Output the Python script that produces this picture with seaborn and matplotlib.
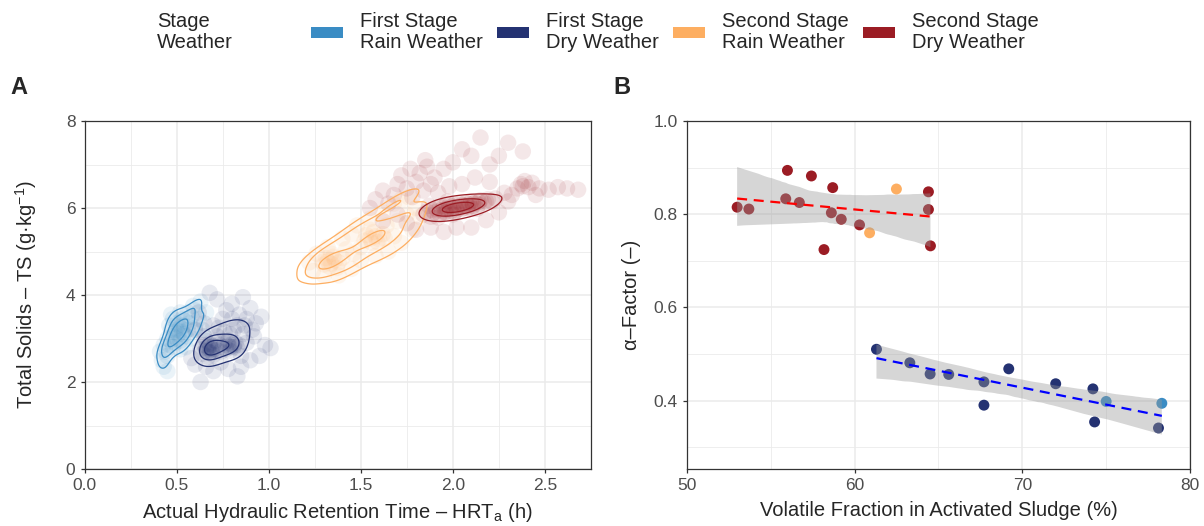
import numpy as np
import pandas as pd
import matplotlib
matplotlib.use("Agg")
import matplotlib.pyplot as plt
import seaborn as sns
from matplotlib.patches import Patch
from matplotlib.ticker import MultipleLocator, FormatStrFormatter

# ---------------- data ----------------
groups = ["First Stage\nRain Weather", "First Stage\nDry Weather",
          "Second Stage\nRain Weather", "Second Stage\nDry Weather"]
colors = ["#3A8CC4", "#243272", "#FDAE61", "#9B1C24"]

# Panel A: HRT_a (h) vs TS (g/kg)
hrt_s1_rain = [0.46, 0.47, 0.48, 0.49, 0.50, 0.50, 0.51, 0.52, 0.52, 0.53, 0.54, 0.55, 0.55, 0.56, 0.57,
               0.48, 0.47, 0.53, 0.58, 0.50, 0.45, 0.49, 0.54, 0.51,
               0.44, 0.45, 0.43, 0.46, 0.48, 0.52, 0.56, 0.60, 0.62, 0.60, 0.58, 0.55, 0.52, 0.59,
               0.42, 0.43, 0.45, 0.41, 0.63, 0.66, 0.64, 0.47]
ts_s1_rain = [2.85, 2.95, 3.05, 3.15, 3.00, 3.20, 3.10, 3.25, 2.95, 3.15, 3.30, 3.05, 3.40, 3.20, 3.35,
              2.80, 3.20, 3.45, 3.50, 3.35, 3.00, 2.90, 3.10, 3.30,
              2.70, 2.60, 2.85, 3.30, 3.45, 3.60, 3.60, 3.65, 3.45, 3.25, 3.00, 2.80, 2.75, 3.75,
              2.50, 2.35, 2.25, 2.70, 3.85, 3.60, 3.20, 3.55]

hrt_s1_dry = [0.63, 0.64, 0.65, 0.66, 0.66, 0.67, 0.68, 0.68, 0.69, 0.70, 0.70, 0.71, 0.72, 0.73, 0.74,
              0.75, 0.76, 0.77, 0.78, 0.79, 0.80, 0.81, 0.82, 0.83, 0.78, 0.67, 0.72, 0.65, 0.84, 0.69,
              0.66, 0.68, 0.70, 0.79, 0.81, 0.67,
              0.68, 0.72, 0.80, 0.86, 0.90, 0.93, 0.88, 0.83, 0.75, 0.70, 0.65, 0.60, 0.86, 0.92, 0.98,
              1.01, 0.95, 0.90, 0.85, 0.78, 0.70, 0.63, 0.83, 0.60, 0.58, 0.76, 0.81, 0.88, 0.96, 0.77,
              0.62, 0.85, 0.74, 0.91, 0.80, 0.66, 0.87, 0.84, 0.79, 0.73]
ts_s1_dry = [2.75, 2.65, 2.85, 2.72, 2.95, 2.80, 2.68, 2.88, 2.76, 2.82, 2.62, 2.95, 2.74, 2.86, 2.70,
             2.80, 2.90, 2.76, 2.84, 2.72, 2.86, 2.80, 2.90, 2.78, 2.95, 2.58, 3.05, 3.05, 2.85, 2.70,
             2.78, 2.82, 2.74, 2.80, 2.84, 2.70,
             4.05, 3.90, 3.80, 3.95, 3.70, 3.35, 3.45, 3.30, 3.45, 3.30, 3.35, 3.20, 3.10, 3.05, 2.85,
             2.78, 2.60, 2.50, 2.35, 2.30, 2.25, 2.00, 2.13, 2.40, 2.55, 3.15, 3.20, 2.90, 3.50, 3.65,
             3.60, 2.60, 2.45, 3.20, 3.45, 2.35, 3.30, 3.55, 3.10, 3.25]

hrt_s2_rain = [1.30, 1.32, 1.34, 1.36, 1.33, 1.35, 1.38, 1.31, 1.37, 1.29, 1.40, 1.34,
               1.52, 1.55, 1.58, 1.60, 1.62, 1.56, 1.53, 1.59, 1.57, 1.63,
               1.45, 1.40, 1.48, 1.55, 1.62, 1.68, 1.72, 1.76, 1.80, 1.82, 1.78, 1.72, 1.65, 1.58,
               1.50, 1.45, 1.38, 1.30, 1.24, 1.22, 1.26, 1.32, 1.42, 1.50, 1.55, 1.64, 1.70, 1.75,
               1.68, 1.46]
ts_s2_rain = [4.70, 4.78, 4.72, 4.80, 4.65, 4.88, 4.75, 4.85, 4.62, 4.76, 4.85, 4.95,
              5.25, 5.30, 5.35, 5.28, 5.40, 5.20, 5.38, 5.22, 5.45, 5.30,
              5.40, 5.30, 5.60, 5.75, 5.90, 6.10, 6.20, 6.25, 6.00, 5.80, 5.50, 5.20, 5.00, 4.90,
              4.80, 4.60, 4.45, 4.45, 4.55, 4.75, 4.95, 5.10, 5.05, 5.10, 5.50, 5.60, 5.70, 5.85,
              5.35, 4.95]

hrt_s2_dry = [1.84, 1.86, 1.88, 1.90, 1.91, 1.93, 1.94, 1.95, 1.96, 1.97, 1.98, 1.99, 2.00, 2.01, 2.02,
              2.03, 2.04, 2.05, 2.06, 2.07, 2.08, 2.09, 2.10, 2.11, 2.12, 2.14, 2.15, 2.17, 2.19, 2.21,
              2.23, 1.92, 2.00, 1.87, 1.97, 2.13,
              1.89, 1.93, 1.96, 1.99, 2.02, 2.05, 2.08, 2.11, 2.14, 2.01, 1.95, 2.06, 2.10, 2.18,
              1.68, 1.70, 1.72, 1.75, 1.77, 1.78, 1.80, 1.82, 1.84, 1.86, 1.88, 1.90, 1.92, 1.65, 1.62,
              1.95, 2.00, 2.05, 2.10, 2.15, 2.20, 2.25, 2.30, 2.38, 1.98, 2.05, 2.12, 2.20, 1.85,
              2.28, 2.32, 2.35, 2.37, 2.38, 2.39, 2.41, 2.43, 2.47, 2.52, 2.57, 2.62, 2.68, 2.30, 2.45,
              1.70, 1.75, 1.80, 1.88, 1.95, 2.02, 2.10, 2.18, 2.25, 1.62, 1.55, 1.58]
ts_s2_dry = [5.85, 5.92, 5.80, 5.90, 5.98, 5.85, 5.95, 6.02, 5.90, 5.98, 6.06, 5.93, 6.00, 6.08, 5.95,
             6.03, 6.10, 5.98, 6.05, 6.12, 6.00, 6.08, 6.15, 6.05, 6.12, 6.08, 6.18, 6.12, 6.20, 6.15,
             6.22, 5.78, 5.85, 6.05, 6.15, 5.98,
             5.95, 6.02, 5.97, 6.03, 6.00, 6.07, 6.05, 6.10, 6.14, 5.90, 5.90, 6.00, 6.00, 6.15,
             6.30, 6.55, 6.75, 6.45, 6.90, 6.25, 6.60, 6.80, 6.40, 6.95, 6.55, 6.70, 6.35, 6.10, 6.40,
             6.90, 7.05, 7.35, 7.20, 7.62, 7.00, 7.20, 7.50, 7.30, 6.50, 6.55, 6.70, 6.60, 7.10,
             6.35, 6.30, 6.45, 6.55, 6.50, 6.62, 6.48, 6.58, 6.45, 6.42, 6.48, 6.45, 6.42, 6.15, 6.30,
             5.85, 5.65, 5.50, 5.55, 5.45, 5.55, 5.55, 5.72, 5.90, 5.70, 6.00, 6.20]

# Panel B: volatile fraction (%) vs alpha-factor
vf_s1_rain = [75.00, 78.32]
af_s1_rain = [0.398, 0.394]
vf_s1_dry = [61.30, 63.29, 64.50, 65.61, 67.71, 67.71, 69.19, 71.99, 74.21, 74.31, 78.12]
af_s1_dry = [0.510, 0.481, 0.457, 0.456, 0.440, 0.390, 0.468, 0.436, 0.425, 0.354, 0.341]
vf_s2_rain = [62.49, 60.89]
af_s2_rain = [0.854, 0.760]
vf_s2_dry = [52.99, 53.69, 55.99, 57.42, 58.69, 55.89, 56.70, 58.61, 59.20, 60.29, 58.17, 64.40, 64.40, 64.52]
af_s2_dry = [0.815, 0.811, 0.894, 0.882, 0.857, 0.833, 0.825, 0.803, 0.789, 0.777, 0.724, 0.848, 0.810, 0.732]

stage_names = ["First Stage", "Second Stage"]
line_colors = ["#0000FF", "#FF0000"]

# ---------------- style ----------------
sns.set_style("white")
plt.rcParams["font.family"] = ["Liberation Sans", "DejaVu Sans"]
plt.rcParams["mathtext.fontset"] = "custom"
plt.rcParams["mathtext.rm"] = "Liberation Sans"
plt.rcParams["mathtext.it"] = "Liberation Sans:italic"
plt.rcParams["mathtext.bf"] = "Liberation Sans:bold"

W, H = 1204, 526
fig = plt.figure(figsize=(W / 100, H / 100), dpi=100)
axA = fig.add_axes([84.5 / W, 1 - 469 / H, (591 - 84.5) / W, (469 - 121) / H])
axB = fig.add_axes([687 / W, 1 - 469 / H, (1190 - 687) / W, (469 - 121) / H])


def style(ax):
    for s in ax.spines.values():
        s.set_visible(True)
        s.set_color("#333333")
        s.set_linewidth(0.9)
    ax.grid(which="major", color="#EBEBEB", linewidth=1.1)
    ax.grid(which="minor", color="#EBEBEB", linewidth=0.6)
    ax.set_axisbelow(True)
    ax.tick_params(which="major", direction="out", length=2.9, width=0.9, color="#333333",
                   labelcolor="#4D4D4D", labelsize=12.5, pad=3.6, bottom=True, left=True)
    ax.tick_params(which="minor", length=0)


# ---------------- panel A ----------------
dfA = pd.concat([
    pd.DataFrame({"hrt": hrt_s1_rain, "ts": ts_s1_rain, "group": groups[0]}),
    pd.DataFrame({"hrt": hrt_s1_dry, "ts": ts_s1_dry, "group": groups[1]}),
    pd.DataFrame({"hrt": hrt_s2_rain, "ts": ts_s2_rain, "group": groups[2]}),
    pd.DataFrame({"hrt": hrt_s2_dry, "ts": ts_s2_dry, "group": groups[3]}),
], ignore_index=True)
pal = dict(zip(groups, colors))

sns.scatterplot(data=dfA, x="hrt", y="ts", hue="group", palette=pal, hue_order=groups,
                alpha=0.1, s=140, linewidth=0, legend=False, ax=axA, zorder=2)
kde_levels = {groups[0]: [0.2, 0.45, 0.75], groups[1]: [0.45, 0.7, 0.88],
              groups[2]: [0.1, 0.35, 0.8], groups[3]: [0.63, 0.8, 0.92]}
kde_bw = {groups[0]: 1.0, groups[1]: 1.0, groups[2]: 0.9, groups[3]: 0.8}
for g in groups:
    sub = dfA[dfA["group"] == g]
    sns.kdeplot(data=sub, x="hrt", y="ts", color=pal[g], levels=kde_levels[g], bw_adjust=kde_bw[g],
                linewidths=0.9, ax=axA, zorder=3)

axA.set_xlim(0, 2.75)
axA.set_ylim(0, 8)
axA.xaxis.set_major_locator(MultipleLocator(0.5))
axA.xaxis.set_minor_locator(MultipleLocator(0.25))
axA.yaxis.set_major_locator(MultipleLocator(2))
axA.yaxis.set_minor_locator(MultipleLocator(1))
axA.xaxis.set_major_formatter(FormatStrFormatter("%.1f"))
style(axA)
axA.set_xlabel("Actual Hydraulic Retention Time – HRT$_\\mathrm{a}$ (h)", fontsize=14.5, labelpad=6)
axA.set_ylabel("Total Solids – TS (g·kg$^{-1}$)", fontsize=14.5, labelpad=19)

# ---------------- panel B ----------------
dfB = pd.concat([
    pd.DataFrame({"vf": vf_s2_dry, "af": af_s2_dry, "group": groups[3], "stage": stage_names[1]}),
    pd.DataFrame({"vf": vf_s2_rain, "af": af_s2_rain, "group": groups[2], "stage": stage_names[1]}),
    pd.DataFrame({"vf": vf_s1_dry, "af": af_s1_dry, "group": groups[1], "stage": stage_names[0]}),
    pd.DataFrame({"vf": vf_s1_rain, "af": af_s1_rain, "group": groups[0], "stage": stage_names[0]}),
], ignore_index=True)

sns.scatterplot(data=dfB, x="vf", y="af", hue="group", palette=pal, s=62, linewidth=0,
                legend=False, ax=axB, zorder=2)
for st, lc in zip(stage_names, line_colors):
    sub = dfB[dfB["stage"] == st]
    n0 = len(axB.collections)
    sns.regplot(data=sub, x="vf", y="af", scatter=False, ci=99, n_boot=2000, seed=1, ax=axB,
                color=lc, line_kws={"lw": 1.6, "dashes": (4.5, 3.0), "zorder": 4})
    for c in axB.collections[n0:]:
        c.set_alpha(0.4)
        c.set_facecolor("#999999")
        c.set_edgecolor("none")
        c.set_zorder(3)

axB.set_xlim(50, 80)
axB.set_ylim(0.253, 1.0)
axB.xaxis.set_major_locator(MultipleLocator(10))
axB.xaxis.set_minor_locator(MultipleLocator(5))
axB.yaxis.set_major_locator(MultipleLocator(0.2))
axB.yaxis.set_minor_locator(MultipleLocator(0.1))
axB.yaxis.set_major_formatter(FormatStrFormatter("%.1f"))
style(axB)
axB.set_xlabel("Volatile Fraction in Activated Sludge (%)", fontsize=14.5, labelpad=6)
axB.set_ylabel("α–Factor (–)", fontsize=14.5, labelpad=9)

# ---------------- panel letters ----------------
fig.text(10 / W, 1 - 87 / H, "A", fontsize=17, fontweight="bold", va="center", ha="left")
fig.text(613 / W, 1 - 87 / H, "B", fontsize=17, fontweight="bold", va="center", ha="left")

# ---------------- legend ----------------
handles = [Patch(facecolor=c, edgecolor="none") for c in colors]
fig.text(157 / W, 1 - 32 / H, "Stage\nWeather", fontsize=14.5, va="center", ha="left", linespacing=1.1)
leg = fig.legend(handles, groups, loc="center left", bbox_to_anchor=(311 / W, 1 - 32 / H), ncol=4,
                 frameon=False, fontsize=14.5, handlelength=1.6, handleheight=0.45, handletextpad=0.82,
                 columnspacing=0.72, borderpad=0, borderaxespad=0)
for t in leg.get_texts():
    t.set_linespacing(1.1)

fig.savefig("out.png", dpi=100)
